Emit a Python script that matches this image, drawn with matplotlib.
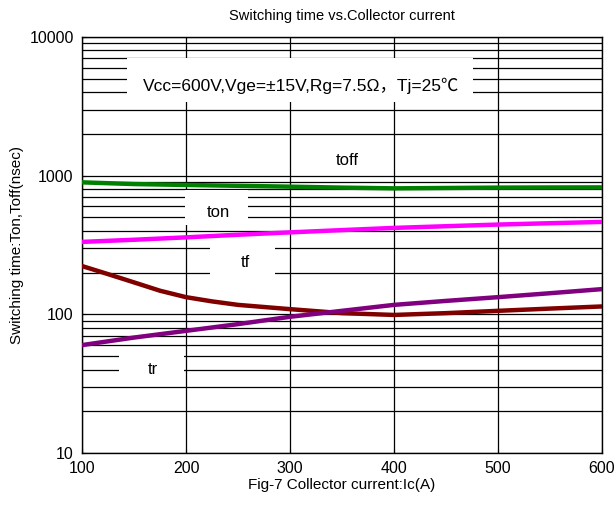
import matplotlib
matplotlib.use('Agg')
import matplotlib.pyplot as plt
from matplotlib.patches import Rectangle
from matplotlib.ticker import LogLocator, NullFormatter, FixedLocator

plt.rcParams['font.family'] = ['Liberation Sans', 'Noto Sans CJK SC', 'DejaVu Sans']

# values
ic = [100, 150, 200, 250, 300, 350, 400, 450, 500, 550, 600]
toff = [895, 870, 857, 845, 833, 820, 810, 815, 820, 822, 823]
ton = [333, 345, 359, 375, 390, 405, 420, 432, 444, 454, 464]
tr = [60, 68, 76, 85, 96, 106, 117, 125, 133, 142, 152]
ic_tf = [100, 125, 150, 175, 200, 225, 250, 300, 350, 400, 450, 500, 550, 600]
tf = [223, 195, 170, 148, 133, 124, 117, 109, 102, 99, 102, 106, 110, 114]

x_ticks = [100, 200, 300, 400, 500, 600]
y_ticks = [10, 100, 1000, 10000]

fig = plt.figure(figsize=(6.16, 5.07), dpi=100)
ax = fig.add_axes([82/616., 54/507., 520/616., 416/507.])

ax.set_yscale('log')
ax.set_xlim(100, 600)
ax.set_ylim(10, 10000)
ax.xaxis.set_major_locator(FixedLocator(x_ticks))
ax.yaxis.set_major_locator(FixedLocator(y_ticks))
ax.yaxis.set_minor_locator(LogLocator(base=10, subs=range(2, 10)))
ax.yaxis.set_minor_formatter(NullFormatter())
ax.set_yticklabels([str(v) for v in y_ticks])
ax.set_xticklabels([str(v) for v in x_ticks])
ax.grid(which='major', axis='both', color='black', lw=0.9)
ax.grid(which='minor', axis='y', color='black', lw=0.9)
ax.tick_params(which='both', direction='in', length=3, labelsize=11.5, pad=6)
ax.tick_params(which='minor', length=0)
for s in ax.spines.values():
  s.set_color('black')
  s.set_linewidth(1.0)

ax.plot(ic, toff, color='#008000', lw=3.2, zorder=4)
ax.plot(ic, ton, color='#ff00ff', lw=3.2, zorder=4)
ax.plot(ic_tf, tf, color='#800000', lw=3.2, zorder=4)
ax.plot(ic, tr, color='#800080', lw=3.2, zorder=4)

# white boxes that hide the grid behind the labels
boxes = [(0.0865, 0.844, 0.666, 0.106),
         (0.198, 0.548, 0.121, 0.084),
         (0.246, 0.428, 0.125, 0.085),
         (0.072, 0.180, 0.125, 0.075)]
for (bx, by, bw, bh) in boxes:
  ax.add_patch(Rectangle((bx, by), bw, bh, transform=ax.transAxes,
                         facecolor='white', edgecolor='none', zorder=3))

ax.text(0.422, 0.882, 'Vcc=600V,Vge=\u00b115V,Rg=7.5\u03a9\uff0cTj=25\u2103',
        transform=ax.transAxes, ha='center', va='center', fontsize=12.5, zorder=5)
ax.text(0.510, 0.704, 'toff', transform=ax.transAxes, ha='center', va='center', fontsize=12, zorder=5)
ax.text(0.262, 0.577, 'ton', transform=ax.transAxes, ha='center', va='center', fontsize=12, zorder=5)
ax.text(0.314, 0.457, 'tf', transform=ax.transAxes, ha='center', va='center', fontsize=12, zorder=5)
ax.text(0.136, 0.200, 'tr', transform=ax.transAxes, ha='center', va='center', fontsize=12, zorder=5)

ax.set_title('Switching time vs.Collector current', fontsize=10.5, pad=12)
ax.set_xlabel('Fig-7 Collector current:Ic(A)', fontsize=11, labelpad=1)
ax.set_ylabel('Switching time:Ton,Toff(nsec)', fontsize=11, labelpad=4)

fig.savefig('out.png', dpi=100)
